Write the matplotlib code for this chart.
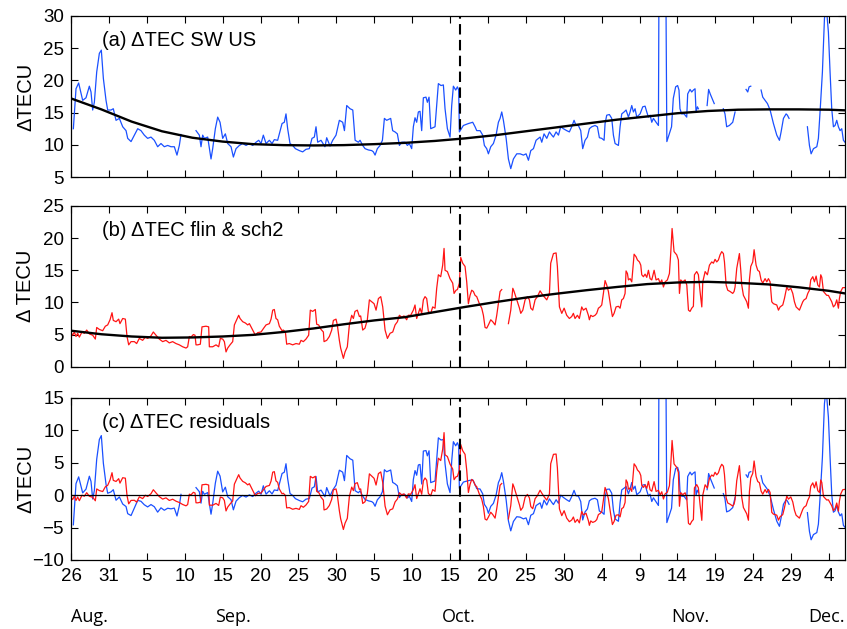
import matplotlib
matplotlib.use("Agg")
import matplotlib.pyplot as plt
import matplotlib.transforms as mtransforms
import numpy as np

nan = np.nan

# days since 26 Aug; NaN marks data gaps
SW_DAY = [
    0.31, 0.66, 1.01, 1.54, 1.98, 2.42, 2.64, 2.86, 3.08, 3.39, 3.74, 4.00, 4.27, 4.62, 4.84,
    5.28, 5.58, 5.94, 6.38, 6.82, 7.26, 7.48, 7.92, 8.36, 8.80, 9.23, 9.67, 10.11, 10.55, 10.99,
    11.43, 11.87, 12.31, 12.75, 13.19, 13.63, 13.98, 14.29, 14.51, 15.5,
    16.49, 16.93, 17.15, 17.37, 17.59, 18.03, 18.47, 18.69, 19.04, 19.35, 19.66, 20.01, 20.36,
    20.67, 21.11, 21.42, 21.77, 22.21, 22.65, 23.09, 23.53, 23.97, 24.41, 24.76, 25.07, 25.37,
    25.73, 26.17, 26.52, 26.82, 27.26, 27.48, 27.84, 28.14, 28.36, 28.58, 28.89, 29.24, 29.60,
    30.12, 30.56, 31.00, 31.44, 31.79, 32.10, 32.32, 32.54, 32.98, 33.50, 33.73, 34.17, 34.52,
    34.96, 35.40, 35.84, 36.07, 36.37, 36.81, 37.17, 37.48, 37.91, 38.13, 38.48, 38.79, 39.23,
    39.67, 39.89, 40.11, 40.41, 40.77, 41.08, 41.34, 41.64, 42.17, 42.43, 42.74, 43.05, 43.32,
    43.62, 44.06, 44.37, 44.63, 44.94, 45.16, 45.38, 45.60, 45.82, 46.04, 46.26, 46.48, 46.83,
    47.01, 47.23, 47.45, 48.02, 48.24, 48.46, 48.81, 49.12, 49.34, 49.65, 50.00, 50.22, 50.44,
    50.75, 50.97, 51.14, 51.23, 51.76, 52.42, 52.99, 53.30, 53.52, 53.96, 54.31, 54.53, 54.84,
    55.06, 55.37, 55.72, 56.07, 56.38, 56.60, 56.82, 57.04, 57.40, 57.70, 58.01, 58.36, 58.80,
    59.24, 59.68, 60.03, 60.34, 60.65, 61.00, 61.35, 61.66, 61.88, 62.10, 62.40, 62.76, 63.11,
    63.42, 63.64, 63.99, 64.30, 64.60, 64.95, 65.39, 65.74, 66.05, 66.36, 66.62, 66.93, 67.24,
    67.50, 67.81, 68.12, 68.38, 68.69, 69.13, 69.44, 69.70, 70.01, 70.32, 70.45, 70.67, 71.02,
    71.33, 71.55, 71.77, 72.21, 72.43, 72.65, 72.96, 73.22, 73.53, 73.75, 73.97, 74.19, 74.41,
    74.63, 75.07, 75.42, 75.73, 75.95, 76.17, 76.39, 76.61, 76.83, 77.18, 77.49, 77.60, 78.40,
    78.60, 78.93, 79.22, 79.45, 79.76, 80.02, 80.20, 80.33, 80.55, 80.87, 81.22, 81.35, 81.66,
    81.88, 82.10, 82.32, 82.45, 82.63, 82.76, 83.3,
    83.91, 84.11, 84.32, 84.67, 84.85, 85.4,
    86.05, 86.27, 86.49, 86.85, 87.29, 87.60, 88.3,
    89.05, 89.27, 89.45, 89.67, 90.3,
    91.03, 91.25, 91.56, 91.87, 92.22, 92.66, 93.10, 93.45, 93.67, 93.98, 94.33, 94.50, 94.72, 96.0,
    97.14, 97.41, 97.63, 97.94, 98.38, 98.59, 98.81, 99.12, 99.39, 99.55, 99.70, 99.91, 100.13,
    100.35, 100.57, 100.79, 101.01, 101.23, 101.45, 101.67, 101.89, 102.10,
]
SW_TEC = [
    12.5, 18.7, 19.6, 16.9, 17.3, 19.1, 18.2, 15.4, 16.6, 21.3, 24.2, 24.7, 20.3, 16.9, 15.4,
    15.4, 15.6, 13.8, 14.1, 12.8, 12.2, 11.0, 10.5, 11.5, 12.5, 12.2, 11.5, 11.0, 11.2, 10.7,
    9.7, 10.2, 9.7, 9.9, 9.7, 9.7, 8.4, 9.9, 11.6, nan,
    12.2, 11.5, 9.7, 11.5, 11.0, 11.2, 7.8, 9.4, 12.5, 14.3, 13.5, 11.0, 11.7,
    10.2, 9.7, 8.1, 9.4, 9.9, 10.2, 9.9, 10.2, 9.9, 10.4, 10.7, 10.2, 11.5,
    10.2, 10.7, 10.2, 10.8, 10.7, 11.7, 13.3, 13.5, 14.8, 12.5, 10.2, 9.9, 9.4,
    9.1, 8.9, 9.3, 9.4, 11.0, 11.2, 12.8, 10.4, 10.7, 9.7, 11.1, 9.8, 10.7,
    11.5, 13.8, 13.5, 12.2, 16.1, 15.6, 15.4, 10.7, 10.4, 10.7, 9.9, 9.4, 9.2,
    9.1, 8.9, 8.4, 9.4, 9.9, 10.7, 14.1, 13.8, 14.1, 12.2, 12.0, 11.7, 9.9,
    10.4, 10.4, 9.9, 10.2, 9.4, 12.8, 14.2, 13.5, 15.1, 15.2, 12.2, 17.3, 17.4,
    16.6, 17.4, 12.5, 12.8, 16.1, 19.5, 19.2, 19.3, 15.6, 12.5, 11.2, 16.1, 19.1,
    18.5, 19.0, 18.5, 12.0, 13.0, 13.3, 13.5, 12.8, 12.2, 12.2, 11.5, 9.9, 9.4,
    8.6, 9.7, 10.2, 11.5, 13.5, 14.1, 15.1, 13.8, 11.0, 7.8, 6.3, 7.8, 8.6,
    8.6, 8.4, 8.6, 7.6, 9.1, 9.4, 10.7, 11.0, 11.2, 10.4, 11.7, 11.0, 12.0,
    11.5, 11.2, 12.0, 11.5, 12.8, 12.5, 12.2, 12.0, 12.8, 13.8, 13.0, 13.0, 12.2,
    9.4, 10.7, 11.2, 12.5, 12.8, 13.0, 12.8, 11.1, 11.0, 10.7, 13.3, 14.6, 14.7,
    14.1, 11.5, 10.2, 9.9, 12.8, 14.8, 15.1, 15.4, 14.3, 15.1, 16.1, 15.1, 15.6,
    14.3, 14.8, 15.9, 16.0, 15.1, 14.3, 14.6, 13.5, 14.1, 13.5, 13.0, 48.0, 48.0,
    10.5, 11.7, 12.8, 17.2, 19.0, 19.2, 18.5, 15.6, 14.8, 14.8, 14.3, 17.9, 18.6,
    18.2, 18.5, 18.7, 15.1, 15.9, 15.6, nan,
    16.1, 18.6, 17.9, 16.9, 16.4, nan,
    15.6, 14.8, 12.8, 13.0, 13.5, 15.1, nan,
    18.6, 18.2, 19.0, 19.1, nan,
    18.5, 17.4, 16.9, 16.4, 15.4, 13.3, 11.5, 10.7, 12.0, 14.1, 14.8, 14.6, 14.1, nan,
    12.8, 9.9, 8.6, 9.4, 9.7, 11.0, 15.1, 21.3, 29.6, 31.2, 30.5, 27.5, 21.3,
    15.6, 12.8, 13.0, 13.8, 12.8, 12.2, 12.5, 10.7, 10.4,
]

FS_DAY = [
    0.00, 0.22, 0.44, 0.66, 0.88, 1.10, 1.45, 1.76, 2.07, 2.42, 2.86, 3.21, 3.39, 3.74, 4.18,
    4.53, 4.84, 5.15, 5.41, 5.58, 5.94, 6.29, 6.46, 6.82, 7.17, 7.39, 7.61, 7.92, 8.36, 8.66,
    9.01, 9.45, 9.81, 10.11, 10.55, 10.86, 11.21, 11.65, 12.09, 12.53, 12.97, 13.41, 13.85,
    14.29, 14.73, 15.17, 15.39, 15.61, 15.83, 16.14, 16.36, 16.49, 16.71, 17.06, 17.28, 17.81,
    18.16, 18.25, 18.69, 19.13, 19.48, 19.70, 20.01, 20.23, 20.45, 20.67, 20.98, 21.33, 21.55,
    21.86, 22.12, 22.30, 22.65, 23.00, 23.31, 23.53, 23.97, 24.32, 24.63, 25.07, 25.42, 25.73,
    26.17, 26.39, 26.61, 26.82, 27.04, 27.26, 27.48, 27.84, 28.01, 28.28, 28.45, 28.80, 29.24,
    29.68, 30.12, 30.34, 30.65, 31.00, 31.35, 31.57, 31.88, 32.23, 32.41, 32.67, 32.98, 33.29,
    33.38, 33.73, 34.08, 34.39, 34.61, 34.96, 35.13, 35.40, 35.57, 35.93, 36.15, 36.45, 36.72,
    37.03, 37.25, 37.46, 37.77, 38.04, 38.21, 38.48, 38.78, 39.09, 39.36, 39.67, 39.98, 40.24,
    40.55, 40.86, 41.12, 41.43, 41.74, 42.09, 42.44, 42.75, 43.06, 43.32, 43.62, 43.93, 44.28,
    44.50, 44.81, 45.16, 45.38, 45.60, 45.82, 46.04, 46.26, 46.48, 46.70, 46.92, 47.14, 47.45,
    47.71, 48.02, 48.24, 48.46, 48.77, 49.03, 49.21, 49.34, 49.65, 50.00, 50.35, 50.53, 50.79,
    50.97, 51.23, 51.41, 51.67, 51.98, 52.20, 52.42, 52.64, 52.86, 53.08, 53.30, 53.52, 53.87,
    54.18, 54.40, 54.62, 54.84, 55.06, 55.37, 55.63, 55.94, 56.16, 56.38, 56.60, 56.82, 57.2,
    57.70, 58.01, 58.28, 58.45, 58.80, 59.16, 59.33, 59.60, 59.90, 60.21, 60.47, 60.65, 60.91,
    61.22, 61.52, 61.88, 62.09, 62.40, 62.76, 63.11, 63.28, 63.64, 63.99, 64.16, 64.43, 64.74,
    65.05, 65.39, 65.74, 66.05, 66.27, 66.49, 66.80, 67.06, 67.37, 67.59, 67.94, 68.25, 68.38,
    68.56, 68.82, 69.13, 69.35, 69.57, 69.79, 70.01, 70.23, 70.45, 70.67, 70.89, 71.20, 71.42,
    71.64, 71.90, 72.21, 72.43, 72.65, 72.87, 73.09, 73.22, 73.40, 73.53, 73.75, 73.97, 74.28,
    74.54, 74.72, 74.98, 75.16, 75.29, 75.51, 75.73, 75.95, 76.17, 76.39, 76.61, 76.92, 77.18,
    77.49, 77.71, 77.93, 78.15, 78.37, 78.67, 78.94, 79.11, 79.29, 79.55, 79.90, 80.12, 80.26,
    80.43, 80.70, 81.01, 81.23, 81.45, 81.66, 81.88, 82.10, 82.24, 82.54, 82.76, 82.98, 83.21,
    83.34, 83.65, 83.95, 84.22, 84.52, 84.74, 84.96, 85.18, 85.40, 85.62, 85.84, 86.06, 86.20,
    86.42, 86.63, 86.94, 87.29, 87.47, 87.60, 87.82, 88.17, 88.35, 88.48, 88.70, 88.92, 89.14,
    89.36, 89.49, 89.67, 89.93, 90.11, 90.37, 90.59, 90.81, 91.03, 91.25, 91.56, 91.78, 92.00,
    92.22, 92.44, 92.66, 93.10, 93.32, 93.54, 93.89, 94.11, 94.42, 94.64, 94.95, 95.21, 95.43,
    95.65, 95.83, 96.09, 96.26, 96.53, 96.70, 96.97, 97.19, 97.41, 97.58, 97.85, 98.07, 98.29,
    98.51, 98.73, 98.90, 99.04, 99.26, 99.47, 99.69, 99.91, 100.13, 100.35, 100.57, 100.79,
    101.01, 101.23, 101.36, 101.54, 101.80, 102.10,
]
FS_TEC = [
    5.3, 4.9, 5.4, 4.7, 5.2, 4.6, 5.4, 5.2, 5.7, 5.1, 4.9, 4.3, 6.1, 5.8, 5.6,
    6.3, 6.5, 7.3, 8.4, 7.2, 7.0, 7.4, 6.7, 7.5, 7.4, 4.7, 3.4, 3.9, 3.9, 3.6,
    4.4, 4.1, 4.6, 4.4, 4.8, 5.4, 4.9, 4.3, 3.9, 4.1, 3.7, 3.9, 3.6,
    3.4, 3.1, 2.9, 3.1, 4.7, 4.6, 5.0, 4.9, 3.4, 3.4, 3.5, 6.2, 6.3,
    6.2, 3.1, 3.1, 3.4, 3.1, 4.4, 4.3, 3.9, 2.3, 2.9, 3.4, 3.9, 6.5,
    7.3, 8.0, 7.5, 7.0, 6.8, 6.5, 6.7, 5.7, 4.9, 5.3, 5.4, 6.0, 6.5,
    6.7, 7.4, 8.8, 8.9, 7.5, 7.3, 6.3, 5.6, 5.7, 5.4, 3.5, 3.6, 3.4,
    3.6, 3.5, 4.1, 3.9, 4.3, 4.9, 8.8, 8.6, 8.9, 6.6, 6.5, 5.8, 5.4,
    3.9, 4.1, 4.7, 5.7, 7.2, 7.4, 6.5, 4.1, 2.9, 1.3, 2.3, 3.1, 6.5,
    8.0, 7.5, 8.6, 8.8, 7.8, 7.9, 5.7, 6.0, 7.3, 10.4, 10.1, 9.8, 8.8,
    10.6, 10.9, 9.3, 5.7, 4.4, 5.2, 5.4, 6.5, 7.0, 8.0, 7.7, 7.9, 7.3,
    8.0, 8.0, 8.8, 9.6, 7.5, 8.3, 9.1, 8.3, 10.4, 10.9, 10.6, 8.6, 8.3,
    9.3, 9.1, 12.2, 14.3, 14.0, 15.8, 18.4, 15.0, 14.8, 13.7, 13.0, 11.4, 11.9,
    12.0, 13.0, 17.0, 16.1, 15.6, 13.2, 9.8, 11.1, 11.9, 11.7, 11.1, 10.9, 9.8,
    9.1, 8.0, 6.1, 6.0, 6.5, 7.3, 7.0, 6.5, 8.0, 9.8, 11.7, 12.0, nan,
    6.7, 8.8, 12.2, 11.7, 10.4, 9.1, 8.3, 8.8, 10.4, 10.9, 10.4, 9.1, 8.8,
    10.4, 10.9, 11.8, 11.4, 10.9, 10.4, 11.4, 16.1, 17.6, 17.7, 15.6, 9.3, 8.3,
    9.1, 8.0, 7.5, 7.8, 8.3, 7.5, 8.0, 7.5, 9.3, 8.8, 9.1, 8.0, 7.3,
    8.0, 7.8, 8.0, 8.3, 9.1, 9.3, 9.6, 11.4, 13.4, 12.7, 11.7, 9.3, 7.8,
    8.3, 9.3, 9.4, 9.1, 10.4, 10.6, 11.4, 14.9, 14.5, 13.5, 13.7, 13.2, 17.5,
    17.1, 16.6, 16.3, 15.8, 14.3, 14.0, 14.4, 13.9, 15.0, 13.7, 13.5, 15.0, 13.5,
    13.7, 13.0, 13.5, 12.4, 13.2, 13.5, 14.5, 17.6, 21.5, 17.9, 17.4, 16.6, 11.4,
    13.5, 13.2, 13.5, 12.7, 8.8, 8.6, 9.1, 9.4, 14.3, 14.8, 14.3, 11.7, 9.3,
    13.2, 14.8, 14.3, 15.8, 16.3, 16.1, 16.7, 16.3, 16.6, 17.4, 17.9, 17.6, 16.3,
    12.7, 11.9, 11.7, 11.4, 11.7, 12.4, 15.3, 17.6, 15.0, 12.7, 11.1, 10.6, 10.1,
    9.1, 13.5, 15.6, 16.3, 18.2, 15.8, 15.0, 14.8, 13.5, 13.0, 13.7, 13.2, 13.7,
    13.2, 10.1, 9.8, 9.6, 8.8, 9.3, 9.6, 10.6, 12.4, 11.9, 12.2, 11.4, 10.1,
    9.3, 9.1, 8.8, 9.3, 10.1, 10.4, 10.6, 11.4, 11.9, 13.5, 14.0, 13.2, 14.1,
    12.7, 12.4, 14.3, 13.9, 11.7, 11.4, 11.1, 11.1, 10.6, 10.1, 9.3, 9.6,
    10.4, 9.1, 10.6, 11.7, 12.3, 12.3,
]

# smooth fitted background curves
FIT_DAY = [0, 4, 8, 12, 16, 20, 24, 28, 32, 36, 40, 44, 48, 52, 56, 60, 64, 68,
           72, 76, 80, 84, 88, 92, 96, 100, 102.1]
SW_FIT = [17.2, 15.5, 13.6, 12.1, 11.1, 10.5, 10.1, 9.95, 9.9, 9.95, 10.1, 10.3, 10.6,
          11.0, 11.5, 12.1, 12.7, 13.3, 13.9, 14.4, 14.9, 15.25, 15.45, 15.5, 15.5, 15.45, 15.35]
FS_FIT = [5.6, 5.05, 4.7, 4.5, 4.55, 4.7, 4.95, 5.4, 5.95, 6.6, 7.2, 7.7, 8.5, 9.3,
          10.05, 10.75, 11.35, 11.9, 12.4, 12.85, 13.1, 13.2, 13.05, 12.8, 12.35, 11.8, 11.4]

EVENT_DAY = 51.3
TICK_LABELS = ["26", "31", "5", "10", "15", "20", "25", "30", "5", "10", "15", "20", "25",
               "30", "4", "9", "14", "19", "24", "29", "4"]
MONTHS = ["Aug.", "Sep.", "Oct.", "Nov.", "Dec."]
MONTH_DAY = [2.5, 21.4, 51.2, 81.7, 99.7]

BLUE = "#1a50ff"
RED = "#ff1414"

plt.rcParams["font.family"] = ["Liberation Sans", "DejaVu Sans"]
plt.rcParams["axes.linewidth"] = 0.9

sw_day = np.array(SW_DAY)
sw_tec = np.array(SW_TEC)
fs_day = np.array(FS_DAY)
fs_tec = np.array(FS_TEC)
sw_res = sw_tec - np.interp(sw_day, FIT_DAY, SW_FIT)
fs_res = fs_tec - np.interp(fs_day, FIT_DAY, FS_FIT)

fig = plt.figure(figsize=(8.47, 6.29), dpi=100)
left, width = 71 / 847, 774 / 847
ax_a = fig.add_axes([left, 1 - 177 / 629, width, 161 / 629])
ax_b = fig.add_axes([left, 1 - 366.7 / 629, width, 160.7 / 629])
ax_c = fig.add_axes([left, 1 - 560 / 629, width, 162 / 629])

ax_a.plot(sw_day, sw_tec, color=BLUE, lw=0.9)
ax_a.plot(FIT_DAY, SW_FIT, color="black", lw=1.7)
ax_b.plot(fs_day, fs_tec, color=RED, lw=0.9)
ax_b.plot(FIT_DAY, FS_FIT, color="black", lw=1.7)
ax_c.plot(sw_day, sw_res, color=BLUE, lw=0.9)
ax_c.plot(fs_day, fs_res, color=RED, lw=0.9)
ax_c.axhline(0, color="black", lw=0.9)

limits = [(5, 30), (0, 25), (-10, 15)]
titles = ["(a) \u0394TEC SW US", "(b) \u0394TEC flin & sch2", "(c) \u0394TEC residuals"]
ylabels = ["\u0394TECU", "\u0394 TECU", "\u0394TECU"]
for ax, lim, title, ylab in zip([ax_a, ax_b, ax_c], limits, titles, ylabels):
    ax.axvline(EVENT_DAY, color="black", lw=1.5, ls=(0, (5, 2.6)))
    ax.set_xlim(0, 102.1)
    ax.set_ylim(*lim)
    ax.set_yticks(np.arange(lim[0], lim[1] + 1, 5))
    ax.set_xticks(np.arange(0, 101, 5))
    ax.tick_params(direction="in", top=True, right=True, length=5, width=0.8,
                   labelsize=13.5, pad=5)
    ax.set_ylabel(ylab, fontsize=14.5)
    ax.yaxis.set_label_coords(-0.046, 0.5)
    ax.text(0.04, 0.85, title, transform=ax.transAxes, fontsize=14.5, va="center", ha="left")
    if ax is not ax_c:
        ax.set_xticklabels([])

ax_c.set_xticklabels(TICK_LABELS)
ax_c.tick_params(axis="x", pad=6)

trans = mtransforms.blended_transform_factory(ax_c.transData, fig.transFigure)
for day, name in zip(MONTH_DAY, MONTHS):
    ax_c.text(day, 1 - 617 / 629, name, transform=trans, ha="center", va="center",
              fontsize=13, family=["Open Sans", "DejaVu Sans"])

fig.savefig("out.png", dpi=100)
